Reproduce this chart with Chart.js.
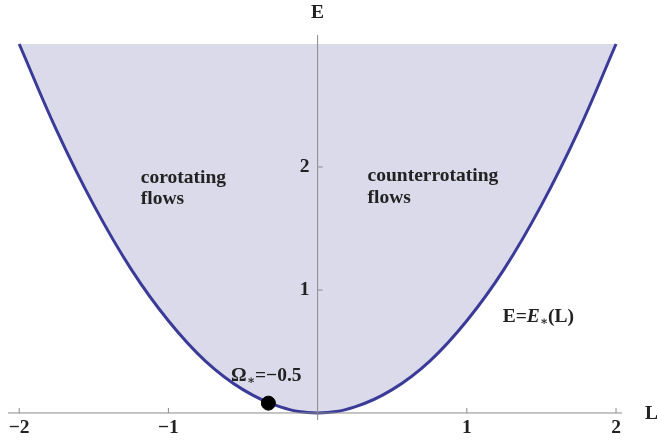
<!DOCTYPE html>
<html lang="en">

<head>
    <title>E*(L) flow regions</title>
    <script src="https://cdn.jsdelivr.net/npm/chart.js"></script>
    <style>
        html, body { margin: 0; padding: 0; background: #fff; }
        #wrap { width: 657px; height: 442px; }
    </style>
</head>

<body>
    <div id="wrap"><canvas id="chart"></canvas></div>

    <script>
        // Boundary curve E = E*(L)
        const lValues = [-2, -1.75, -1.5, -1.25, -1, -0.75, -0.5, -0.25, 0, 0.25, 0.5, 0.75, 1, 1.25, 1.5, 1.75, 2];
        const eValues = [3.0, 2.3, 1.69, 1.17, 0.75, 0.42, 0.19, 0.05, 0, 0.05, 0.19, 0.42, 0.75, 1.17, 1.69, 2.3, 3.0];

        // Marked point (Omega* = -0.5)
        const markL = [-0.33];
        const markE = [0.08];

        // Tick labels
        const xTicks = [-2, -1, 1, 2];
        const yTicks = [1, 2];
        const fillTop = 3;

        const serif = '"Liberation Serif", "DejaVu Serif", serif';
        const big = 'bold 19.5px ' + serif;
        const small = 'bold 12px ' + serif;

        const curve = lValues.map((l, i) => ({ x: l, y: eValues[i] }));
        const marks = markL.map((l, i) => ({ x: l, y: markE[i] }));

        // Axes crossing at the origin, ticks pointing inward
        const crossAxes = {
            id: 'crossAxes',
            afterDatasetsDraw(chart) {
                const { ctx, chartArea, scales: { x, y } } = chart;
                const x0 = x.getPixelForValue(0);
                const y0 = y.getPixelForValue(0);
                ctx.save();
                ctx.strokeStyle = '#8a8a8a';
                ctx.lineWidth = 1;
                ctx.beginPath();
                ctx.moveTo(chartArea.left, y0);
                ctx.lineTo(chartArea.right, y0);
                ctx.moveTo(x0, chartArea.top);
                ctx.lineTo(x0, chartArea.bottom);
                xTicks.forEach(v => {
                    const px = x.getPixelForValue(v);
                    ctx.moveTo(px, y0);
                    ctx.lineTo(px, y0 - 5);
                });
                yTicks.forEach(v => {
                    const py = y.getPixelForValue(v);
                    ctx.moveTo(x0, py);
                    ctx.lineTo(x0 + 5, py);
                });
                ctx.stroke();

                ctx.fillStyle = '#222';
                ctx.font = big;
                ctx.textAlign = 'center';
                ctx.textBaseline = 'top';
                xTicks.forEach(v => {
                    ctx.fillText(String(v).replace('-', '\u2212'), x.getPixelForValue(v), y0 + 5);
                });
                ctx.textAlign = 'right';
                ctx.textBaseline = 'middle';
                yTicks.forEach(v => {
                    ctx.fillText(String(v), x0 - 8, y.getPixelForValue(v));
                });

                // axis titles
                ctx.textAlign = 'center';
                ctx.fillText('E', x0, chartArea.top - 22);
                ctx.textAlign = 'left';
                ctx.fillText('L', chartArea.right + 23, y0 + 1);
                ctx.restore();
            }
        };

        // Region and curve labels
        const notes = {
            id: 'notes',
            afterDatasetsDraw(chart) {
                const { ctx, scales: { x, y } } = chart;
                ctx.save();
                ctx.fillStyle = '#222';
                ctx.font = big;
                ctx.textAlign = 'left';
                ctx.textBaseline = 'middle';
                ctx.fillText('corotating', x.getPixelForValue(-1.185), y.getPixelForValue(1.91));
                ctx.fillText('flows', x.getPixelForValue(-1.185), y.getPixelForValue(1.74));
                ctx.fillText('counterrotating', x.getPixelForValue(0.335), y.getPixelForValue(1.93));
                ctx.fillText('flows', x.getPixelForValue(0.335), y.getPixelForValue(1.75));

                // E=E*(L)
                let px = x.getPixelForValue(1.24);
                const py = y.getPixelForValue(0.78);
                ctx.fillText('E=', px, py);
                px += ctx.measureText('E=').width;
                ctx.font = 'bold italic 19.5px ' + serif;
                ctx.fillText('E', px, py);
                px += ctx.measureText('E').width;
                ctx.font = small;
                ctx.fillText('\u2217', px, py + 5);
                px += ctx.measureText('\u2217').width;
                ctx.font = big;
                ctx.fillText('(L)', px, py);

                // Omega* = -0.5
                px = x.getPixelForValue(-0.58);
                const qy = y.getPixelForValue(0.3);
                ctx.fillText('\u03A9', px, qy);
                px += ctx.measureText('\u03A9').width;
                ctx.font = small;
                ctx.fillText('\u2217', px, qy + 5);
                px += ctx.measureText('\u2217').width;
                ctx.font = big;
                ctx.fillText('=\u22120.5', px, qy);
                ctx.restore();
            }
        };

        const ctx = document.getElementById('chart').getContext('2d');

        const chart = new Chart(ctx, {
            type: 'scatter',
            data: {
                datasets: [{
                    label: 'E*(L)',
                    data: curve,
                    showLine: true,
                    borderColor: 'rgb(58, 58, 152)',
                    borderWidth: 3,
                    backgroundColor: 'rgb(218, 218, 234)',
                    fill: { value: fillTop },
                    tension: 0.4,
                    pointRadius: 0,
                    order: 2
                }, {
                    label: 'Omega* = -0.5',
                    data: marks,
                    pointRadius: 7,
                    pointBackgroundColor: '#000',
                    pointBorderColor: '#000',
                    order: 1
                }]
            },
            options: {
                animation: false,
                responsive: true,
                maintainAspectRatio: false,
                layout: { padding: { left: 5, right: 35, top: 35, bottom: 22 } },
                plugins: {
                    legend: { display: false },
                    tooltip: { enabled: false },
                    filler: { propagate: false }
                },
                scales: {
                    x: { type: 'linear', min: -2.075, max: 2.04, display: false },
                    y: { type: 'linear', min: -0.057, max: 3.073, display: false }
                }
            },
            plugins: [crossAxes, notes]
        });
    </script>
</body>

</html>
